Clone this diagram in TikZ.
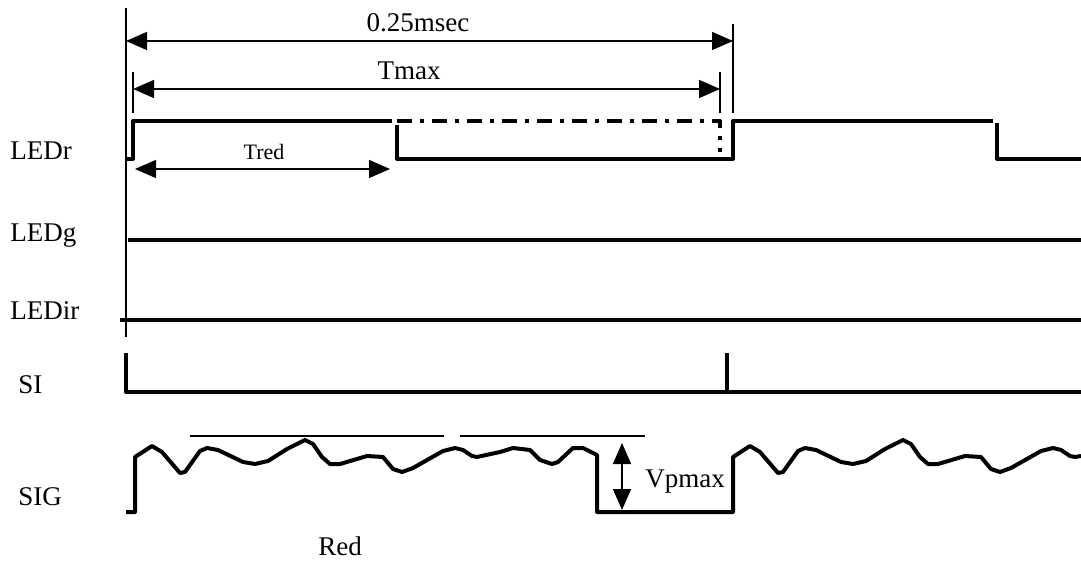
\documentclass[tikz,border=0pt]{standalone}
\usepackage{fontspec}
\setmainfont{Liberation Serif}
\usetikzlibrary{arrows.meta}
\tikzset{
    signal/.style={line width=2pt,line join=round},
    signal unsure/.style={signal,dash pattern=on 7.5pt off 4pt on 2pt off 4pt},
    thinline/.style={line width=0.7pt},
    dim arr/.style={<->,>={Triangle[length=10.5pt,width=9pt]},thinline},
    label/.style={anchor=base west,inner sep=0pt,font=\fontsize{13.5}{16}\selectfont},
    dim label/.style={anchor=base,inner sep=0pt,font=\fontsize{13.5}{16}\selectfont},
    small label/.style={dim label,font=\fontsize{11}{13}\selectfont},
}

\begin{document}
\begin{tikzpicture}[x=0.5pt,y=-0.5pt]
        \useasboundingbox (0,0) rectangle (1081,561);
        % time marks
        \coordinate (t0) at (126,41);  \coordinate (t1) at (733,41);
        \coordinate (m0) at (133,89);  \coordinate (m1) at (720,89);
        \coordinate (r0) at (135,169); \coordinate (r1) at (390,169);
        \coordinate (v0) at (622,443); \coordinate (v1) at (622,510);
        \draw[thinline] (126,8) -- (126,337);
        \draw[thinline] (733,24) -- (733,113) (133,72) -- (133,113) (720,72) -- (720,113);
        \draw[dim arr] (t0) -- (t1);
        \draw[dim arr] (m0) -- (m1);
        \draw[dim arr] (r0) -- (r1);
        \node[dim label] (period) at (418,32) {0.25msec};
        \node[dim label] (tmax) at (409,80) {Tmax};
        \node[small label] (tred) at (264,160) {Tred};
        % channels
        \node[label] (ledr) at (10,160) {LEDr};
        \node[label] (ledg) at (10,242) {LEDg};
        \node[label] (ledir) at (10,320) {LEDir};
        \node[label] (si) at (18,393) {SI};
        \node[label] (sig) at (18,505) {SIG};
        \draw[signal] (126,159) -- (133,159) -- (133,121) -- (392,121);
        \draw[signal] (397,125) -- (397,159) -- (733,159) -- (733,121) -- (993,121);
        \draw[signal] (997,123) -- (997,159) -- (1081,159);
        \draw[signal unsure] (397,121) -- (720,121) -- (720,152);
        \draw[signal] (128,240) -- (1081,240);
        \draw[signal] (120,320) -- (1081,320);
        \draw[signal] (126,353) -- (126,392) -- (1081,392) (727,353) -- (727,392);
        \draw[signal] (126,512) -- (135,512) -- (135,457) -- (152,446) -- (162,452) -- (180,473) -- (185,472)
            -- (200,451) -- (207,448) -- (218,450) -- (243,462) -- (255,464) -- (268,461) -- (287,449)
            -- (305,440) -- (313,444) -- (322,457) -- (330,464) -- (340,464) -- (367,456) -- (383,457)
            -- (393,469) -- (402,472) -- (413,468) -- (443,451) -- (455,448) -- (463,450) -- (472,456)
            -- (477,457) -- (500,452) -- (513,448) -- (530,450) -- (540,460) -- (552,464) -- (558,462)
            -- (573,448) -- (583,448) -- (597,455) -- (597,512) -- (733,512) -- (733,457)
            -- (750,446) -- (760,452) -- (778,473) -- (783,472) -- (798,451) -- (805,448) -- (816,450)
            -- (841,462) -- (853,464) -- (866,461) -- (885,449) -- (903,440) -- (911,444) -- (920,457)
            -- (928,464) -- (938,464) -- (965,456) -- (981,457) -- (991,469) -- (1000,472) -- (1011,468)
            -- (1041,451) -- (1053,448) -- (1061,450) -- (1070,456) -- (1075,457) -- (1081,456);
        \draw[thinline] (190,436) -- (444,436) (460,436) -- (645,436);
        \draw[dim arr] (v0) -- (v1);
        \node[label] (vpmax) at (645,487) {Vpmax};
        \node[dim label] (red) at (340,555) {Red};
    \end{tikzpicture}
\end{document}
